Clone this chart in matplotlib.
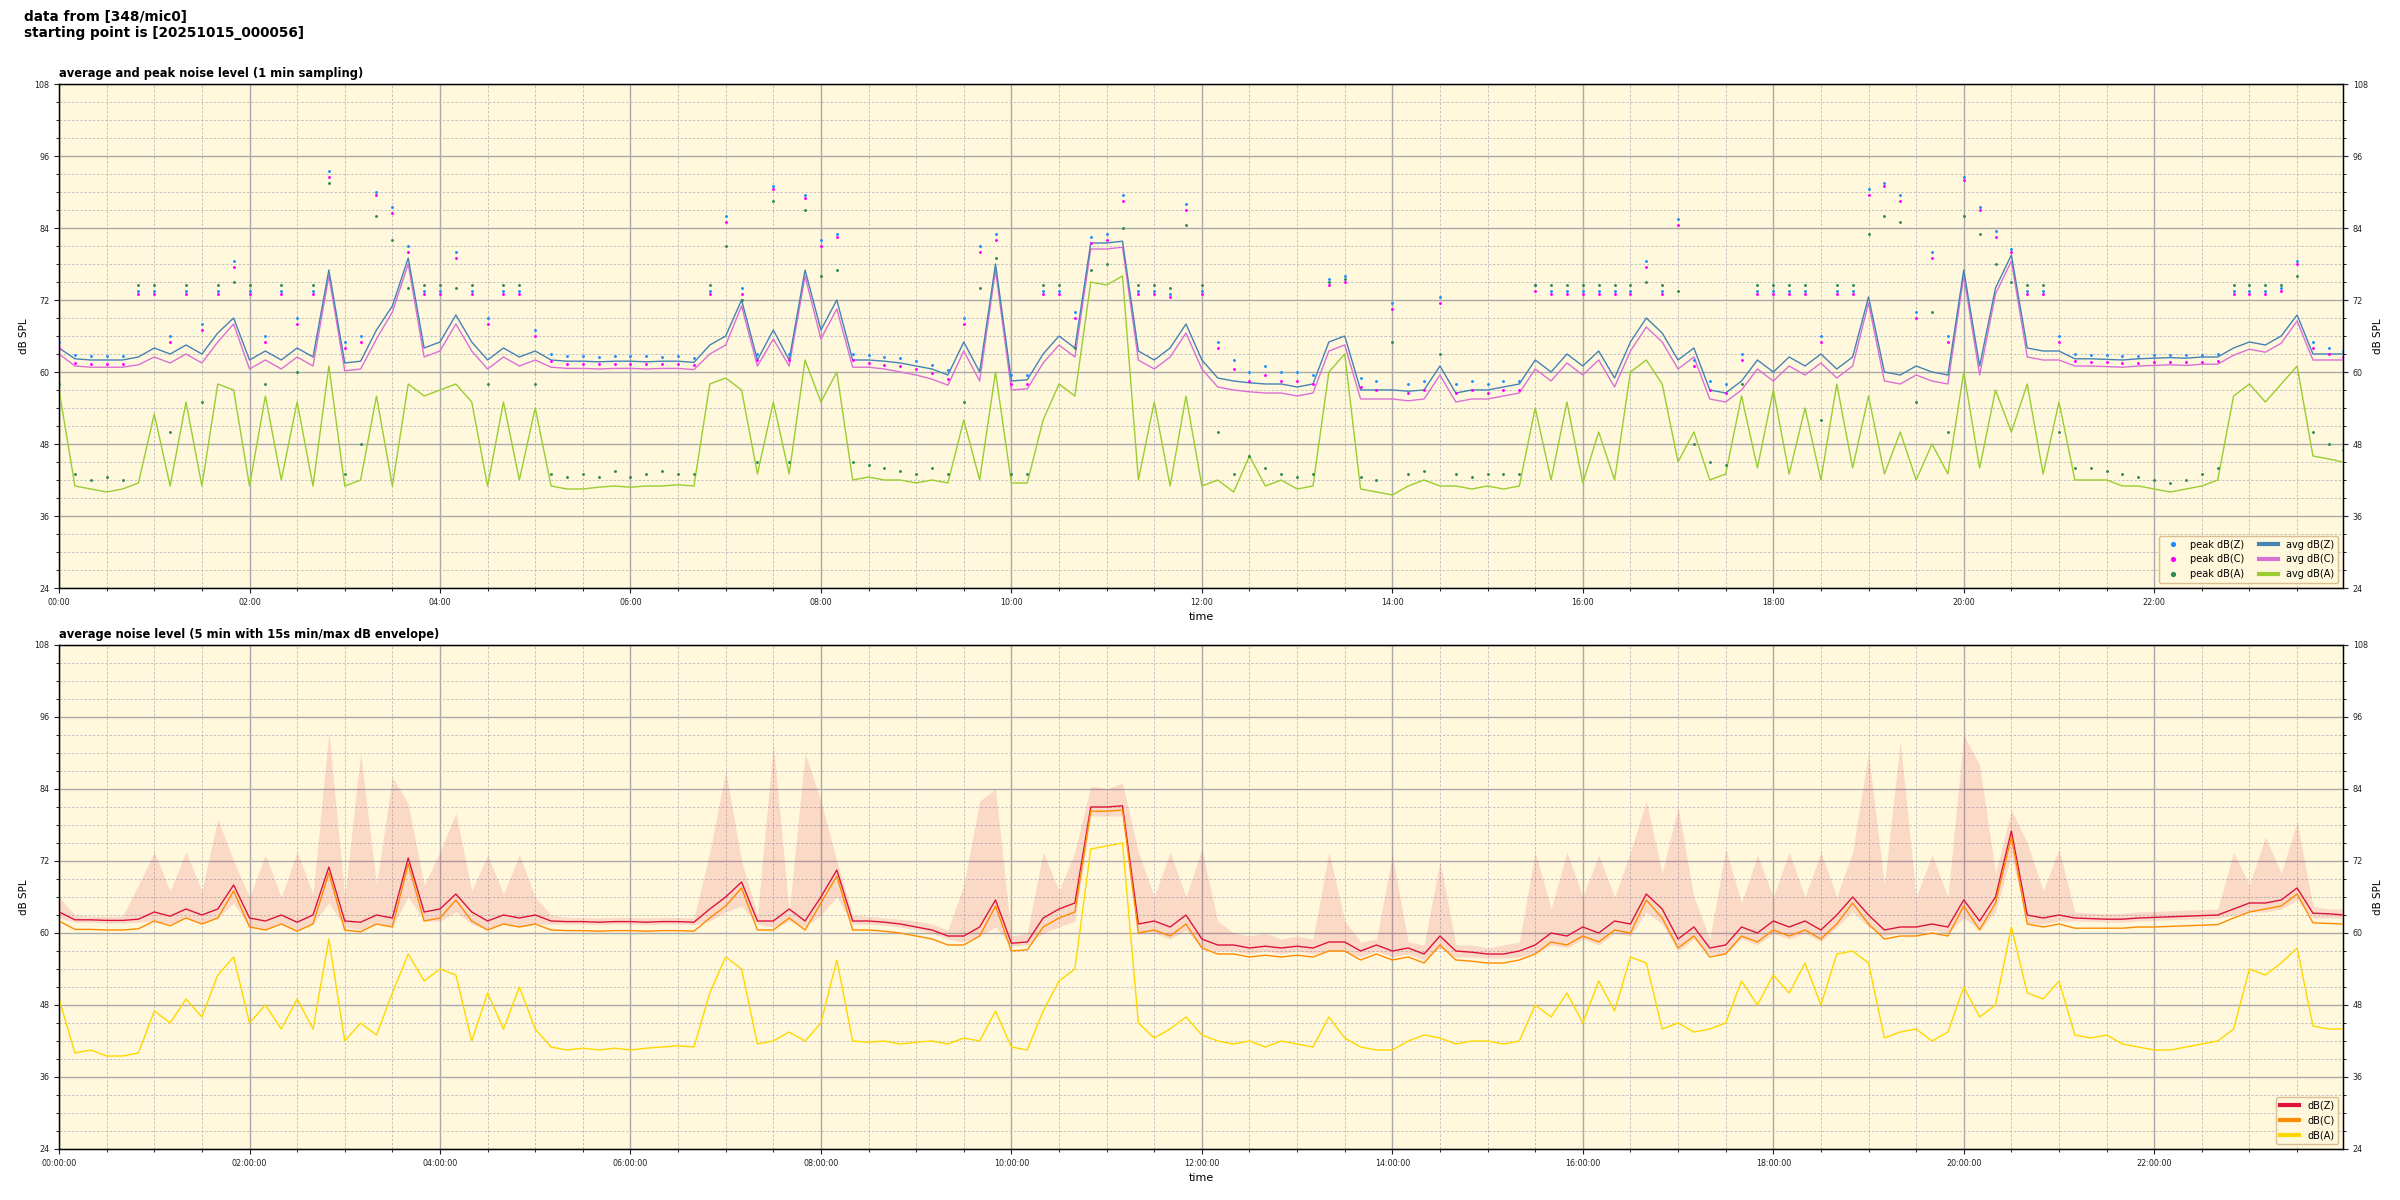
import numpy as np
import matplotlib
matplotlib.use('Agg')
from matplotlib import pyplot as plt
from matplotlib.ticker import MultipleLocator, FuncFormatter

#%% data (10 min steps)
minutes = list(range(0, 1440, 10)) + [1439]

# top panel: 1 min averages
avg_z = [64.0, 62.2, 62.0, 62.0, 62.0, 62.5,
         64.0, 63.0, 64.5, 63.0, 66.5, 69.0,
         62.0, 63.5, 62.0, 64.0, 62.5, 77.0,
         61.5, 61.8, 67.0, 71.0, 79.0, 64.0,
         65.0, 69.5, 65.0, 62.0, 64.0, 62.5,
         63.5, 62.0, 61.8, 61.8, 61.7, 61.8,
         61.8, 61.7, 61.8, 61.8, 61.6, 64.5,
         66.0, 72.0, 62.0, 67.0, 62.0, 77.0,
         67.0, 72.0, 62.0, 62.0, 61.8, 61.5,
         61.0, 60.5, 59.5, 65.0, 60.0, 78.0,
         58.5, 58.7, 63.0, 66.0, 64.0, 81.5,
         81.5, 81.8, 63.5, 62.0, 64.0, 68.0,
         62.0, 59.0, 58.5, 58.2, 58.0, 58.0,
         57.5, 58.0, 65.0, 66.0, 57.0, 57.0,
         57.0, 56.8, 57.0, 61.0, 56.5, 57.0,
         57.0, 57.5, 58.0, 62.0, 60.0, 63.0,
         61.0, 63.5, 59.0, 65.0, 69.0, 66.5,
         62.0, 64.0, 57.0, 56.5, 58.5, 62.0,
         60.0, 62.5, 61.0, 63.0, 60.5, 62.5,
         72.5, 60.0, 59.5, 61.0, 60.0, 59.5,
         77.0, 61.0, 74.0, 79.5, 64.0, 63.5,
         63.5, 62.2, 62.2, 62.1, 62.0, 62.2,
         62.3, 62.4, 62.3, 62.5, 62.5, 64.0,
         65.0, 64.5, 66.0, 69.5, 63.0, 63.0,
         63.0]

avg_c = [63.0, 61.0, 60.8, 60.8, 60.8, 61.2,
         62.5, 61.5, 63.0, 61.5, 65.0, 68.0,
         60.5, 62.0, 60.5, 62.5, 61.0, 76.0,
         60.2, 60.5, 65.5, 70.0, 78.0, 62.5,
         63.5, 68.0, 63.5, 60.5, 62.5, 61.0,
         62.0, 60.8, 60.6, 60.6, 60.5, 60.6,
         60.6, 60.5, 60.6, 60.6, 60.4, 63.0,
         64.5, 71.0, 61.0, 65.5, 61.0, 76.0,
         65.5, 70.5, 60.8, 60.8, 60.5, 60.0,
         59.5, 58.8, 57.8, 63.5, 58.5, 77.0,
         57.0, 57.2, 61.5, 64.5, 62.5, 80.5,
         80.5, 80.8, 62.0, 60.5, 62.5, 66.5,
         60.5, 57.5, 57.0, 56.7, 56.5, 56.5,
         56.0, 56.5, 63.5, 64.5, 55.5, 55.5,
         55.5, 55.2, 55.5, 59.5, 55.0, 55.5,
         55.5, 56.0, 56.5, 60.5, 58.5, 61.5,
         59.5, 62.0, 57.5, 63.5, 67.5, 65.0,
         60.5, 62.5, 55.5, 55.0, 57.0, 60.5,
         58.5, 61.0, 59.5, 61.5, 59.0, 61.0,
         71.5, 58.5, 58.0, 59.5, 58.5, 58.0,
         76.0, 59.5, 73.0, 78.5, 62.5, 62.0,
         62.0, 61.0, 61.0, 60.9, 60.8, 61.0,
         61.1, 61.2, 61.1, 61.3, 61.3, 62.8,
         63.8, 63.3, 64.8, 68.5, 62.0, 62.0,
         62.0]

avg_a = [57.0, 41.0, 40.5, 40.0, 40.5, 41.5,
         53.0, 41.0, 55.0, 41.0, 58.0, 57.0,
         41.0, 56.0, 42.0, 55.0, 41.0, 61.0,
         41.0, 42.0, 56.0, 41.0, 58.0, 56.0,
         57.0, 58.0, 55.0, 41.0, 55.0, 42.0,
         54.0, 41.0, 40.5, 40.5, 40.8, 41.0,
         40.8, 41.0, 41.0, 41.2, 41.0, 58.0,
         59.0, 57.0, 43.0, 55.0, 43.0, 62.0,
         55.0, 60.0, 42.0, 42.5, 42.0, 42.0,
         41.5, 42.0, 41.5, 52.0, 42.0, 60.0,
         41.5, 41.5, 52.0, 58.0, 56.0, 75.0,
         74.5, 76.0, 42.0, 55.0, 41.0, 56.0,
         41.0, 42.0, 40.0, 46.0, 41.0, 42.0,
         40.5, 41.0, 60.0, 63.0, 40.5, 40.0,
         39.5, 41.0, 42.0, 41.0, 41.0, 40.5,
         41.0, 40.5, 41.0, 54.0, 42.0, 55.0,
         41.5, 50.0, 42.0, 60.0, 62.0, 58.0,
         45.0, 50.0, 42.0, 43.0, 56.0, 44.0,
         57.0, 43.0, 54.0, 42.0, 58.0, 44.0,
         56.0, 43.0, 50.0, 42.0, 48.0, 43.0,
         60.0, 44.0, 57.0, 50.0, 58.0, 43.0,
         55.0, 42.0, 42.0, 42.0, 41.0, 41.0,
         40.5, 40.0, 40.5, 41.0, 42.0, 56.0,
         58.0, 55.0, 58.0, 61.0, 46.0, 45.5,
         45.0]

peak_z = [65.0, 62.8, 62.6, 62.6, 62.6, 73.5,
          73.5, 66.0, 73.5, 68.0, 73.5, 78.5,
          73.5, 66.0, 73.5, 69.0, 73.5, 93.5,
          65.0, 66.0, 90.0, 87.5, 81.0, 73.5,
          73.5, 80.0, 73.5, 69.0, 73.5, 73.5,
          67.0, 63.0, 62.6, 62.6, 62.5, 62.6,
          62.6, 62.6, 62.5, 62.6, 62.4, 73.5,
          86.0, 74.0, 63.0, 91.0, 63.0, 89.5,
          82.0, 83.0, 63.0, 62.8, 62.5, 62.3,
          61.8, 61.2, 60.3, 69.0, 81.0, 83.0,
          59.5, 59.5, 73.5, 73.5, 70.0, 82.5,
          83.0, 89.5, 73.5, 73.5, 73.0, 88.0,
          73.5, 65.0, 62.0, 60.0, 61.0, 60.0,
          60.0, 59.5, 75.5, 76.0, 59.0, 58.5,
          71.5, 58.0, 58.5, 72.5, 58.0, 58.5,
          58.0, 58.5, 58.5, 74.5, 73.5, 73.5,
          73.5, 73.5, 73.5, 73.5, 78.5, 73.5,
          85.5, 62.0, 58.5, 58.0, 63.0, 73.5,
          73.5, 73.5, 73.5, 66.0, 73.5, 73.5,
          90.5, 91.5, 89.5, 70.0, 80.0, 66.0,
          92.5, 87.5, 83.5, 80.5, 73.5, 73.5,
          66.0, 63.0, 62.8, 62.8, 62.7, 62.7,
          62.8, 62.9, 62.8, 62.9, 63.0, 73.5,
          73.5, 73.5, 74.0, 78.5, 65.0, 64.0,
          63.5]

peak_c = [64.0, 61.5, 61.3, 61.3, 61.3, 73.0,
          73.0, 65.0, 73.0, 67.0, 73.0, 77.5,
          73.0, 65.0, 73.0, 68.0, 73.0, 92.5,
          64.0, 65.0, 89.5, 86.5, 80.0, 73.0,
          73.0, 79.0, 73.0, 68.0, 73.0, 73.0,
          66.0, 61.8, 61.4, 61.4, 61.3, 61.4,
          61.4, 61.4, 61.3, 61.4, 61.2, 73.0,
          85.0, 73.0, 62.0, 90.5, 62.0, 89.0,
          81.0, 82.5, 62.0, 61.5, 61.2, 61.0,
          60.5, 59.8, 58.8, 68.0, 80.0, 82.0,
          58.0, 58.0, 73.0, 73.0, 69.0, 81.5,
          82.0, 88.5, 73.0, 73.0, 72.5, 87.0,
          73.0, 64.0, 60.5, 58.5, 59.5, 58.5,
          58.5, 58.0, 74.5, 75.0, 57.5, 57.0,
          70.5, 56.5, 57.0, 71.5, 56.5, 57.0,
          56.5, 57.0, 57.0, 73.5, 73.0, 73.0,
          73.0, 73.0, 73.0, 73.0, 77.5, 73.0,
          84.5, 61.0, 57.0, 56.5, 62.0, 73.0,
          73.0, 73.0, 73.0, 65.0, 73.0, 73.0,
          89.5, 91.0, 88.5, 69.0, 79.0, 65.0,
          92.0, 87.0, 82.5, 80.0, 73.0, 73.0,
          65.0, 61.8, 61.6, 61.6, 61.5, 61.5,
          61.6, 61.7, 61.6, 61.7, 61.8, 73.0,
          73.0, 73.0, 73.5, 78.0, 64.0, 63.0,
          62.5]

peak_a = [58.0, 43.0, 42.0, 42.5, 42.0, 74.5,
          74.5, 50.0, 74.5, 55.0, 74.5, 75.0,
          74.5, 58.0, 74.5, 60.0, 74.5, 91.5,
          43.0, 48.0, 86.0, 82.0, 74.0, 74.5,
          74.5, 74.0, 74.5, 58.0, 74.5, 74.5,
          58.0, 43.0, 42.5, 43.0, 42.5, 43.5,
          42.5, 43.0, 43.5, 43.0, 43.0, 74.5,
          81.0, 72.0, 45.0, 88.5, 45.0, 87.0,
          76.0, 77.0, 45.0, 44.5, 44.0, 43.5,
          43.0, 44.0, 43.0, 55.0, 74.0, 79.0,
          43.0, 43.0, 74.5, 74.5, 64.0, 77.0,
          78.0, 84.0, 74.5, 74.5, 74.0, 84.5,
          74.5, 50.0, 43.0, 46.0, 44.0, 43.0,
          42.5, 43.0, 75.0, 75.5, 42.5, 42.0,
          65.0, 43.0, 43.5, 63.0, 43.0, 42.5,
          43.0, 43.0, 43.0, 74.5, 74.5, 74.5,
          74.5, 74.5, 74.5, 74.5, 75.0, 74.5,
          73.5, 48.0, 45.0, 44.5, 58.0, 74.5,
          74.5, 74.5, 74.5, 52.0, 74.5, 74.5,
          83.0, 86.0, 85.0, 55.0, 70.0, 50.0,
          86.0, 83.0, 78.0, 75.0, 74.5, 74.5,
          50.0, 44.0, 44.0, 43.5, 43.0, 42.5,
          42.0, 41.5, 42.0, 43.0, 44.0, 74.5,
          74.5, 74.5, 74.5, 76.0, 50.0, 48.0,
          47.0]

# bottom panel: 5 min averages and 15 s envelope
low_z = [63.5, 62.2, 62.2, 62.1, 62.1, 62.3,
         63.5, 62.8, 64.0, 63.0, 64.0, 68.0,
         62.5, 62.0, 63.0, 61.8, 63.0, 71.0,
         62.0, 61.8, 63.0, 62.5, 72.5, 63.5,
         64.0, 66.5, 63.5, 62.0, 63.0, 62.5,
         63.0, 62.0, 61.9, 61.9, 61.8, 61.9,
         61.9, 61.8, 61.9, 61.9, 61.8, 64.0,
         66.0, 68.5, 62.0, 62.0, 64.0, 62.0,
         66.0, 70.5, 62.0, 62.0, 61.8, 61.5,
         61.0, 60.5, 59.5, 59.5, 61.0, 65.5,
         58.3, 58.5, 62.5, 64.0, 65.0, 81.0,
         81.0, 81.2, 61.5, 62.0, 61.0, 63.0,
         59.0, 58.0, 58.0, 57.5, 57.8, 57.5,
         57.8, 57.5, 58.5, 58.5, 57.0, 58.0,
         57.0, 57.5, 56.5, 59.5, 57.0, 56.8,
         56.5, 56.5, 57.0, 58.0, 60.0, 59.5,
         61.0, 60.0, 62.0, 61.5, 66.5, 64.0,
         59.0, 61.0, 57.5, 58.0, 61.0, 60.0,
         62.0, 61.0, 62.0, 60.5, 63.0, 66.0,
         63.0, 60.5, 61.0, 61.0, 61.5, 61.0,
         65.5, 62.0, 66.0, 77.0, 63.0, 62.5,
         63.0, 62.5, 62.4, 62.3, 62.3, 62.5,
         62.6, 62.7, 62.8, 62.9, 63.0, 64.0,
         65.0, 65.0, 65.5, 67.5, 63.3, 63.2,
         63.0]

low_c = [62.0, 60.6, 60.6, 60.5, 60.5, 60.7,
         62.0, 61.2, 62.5, 61.5, 62.5, 67.0,
         61.0, 60.5, 61.5, 60.3, 61.5, 70.0,
         60.5, 60.2, 61.5, 61.0, 71.5, 62.0,
         62.5, 65.5, 62.0, 60.5, 61.5, 61.0,
         61.5, 60.5, 60.4, 60.4, 60.3, 60.4,
         60.4, 60.3, 60.4, 60.4, 60.3, 62.5,
         64.5, 67.5, 60.5, 60.5, 62.5, 60.5,
         65.0, 69.5, 60.5, 60.5, 60.3, 60.0,
         59.5, 59.0, 58.0, 58.0, 59.5, 64.5,
         57.0, 57.2, 61.0, 62.5, 63.5, 80.3,
         80.3, 80.5, 60.0, 60.5, 59.5, 61.5,
         57.5, 56.5, 56.5, 56.0, 56.3, 56.0,
         56.3, 56.0, 57.0, 57.0, 55.5, 56.5,
         55.5, 56.0, 55.0, 58.0, 55.5, 55.3,
         55.0, 55.0, 55.5, 56.5, 58.5, 58.0,
         59.5, 58.5, 60.5, 60.0, 65.5, 62.5,
         57.5, 59.5, 56.0, 56.5, 59.5, 58.5,
         60.5, 59.5, 60.5, 59.0, 61.5, 65.0,
         61.5, 59.0, 59.5, 59.5, 60.0, 59.5,
         64.5, 60.5, 65.0, 76.0, 61.5, 61.0,
         61.5, 60.8, 60.8, 60.8, 60.8, 61.0,
         61.0, 61.1, 61.2, 61.3, 61.4, 62.5,
         63.5, 64.0, 64.5, 66.5, 61.7, 61.6,
         61.5]

low_a = [49.0, 40.0, 40.5, 39.5, 39.5, 40.0,
         47.0, 45.0, 49.0, 46.0, 53.0, 56.0,
         45.0, 48.0, 44.0, 49.0, 44.0, 59.0,
         42.0, 45.0, 43.0, 50.0, 56.5, 52.0,
         54.0, 53.0, 42.0, 50.0, 44.0, 51.0,
         44.0, 41.0, 40.5, 40.8, 40.5, 40.8,
         40.5, 40.8, 41.0, 41.2, 41.0, 50.0,
         56.0, 54.0, 41.5, 42.0, 43.5, 42.0,
         45.0, 55.5, 42.0, 41.8, 42.0, 41.5,
         41.8, 42.0, 41.5, 42.5, 42.0, 47.0,
         41.0, 40.5, 47.0, 52.0, 54.0, 74.0,
         74.5, 75.0, 45.0, 42.5, 44.0, 46.0,
         43.0, 42.0, 41.5, 42.0, 41.0, 42.0,
         41.5, 41.0, 46.0, 42.5, 41.0, 40.5,
         40.5, 42.0, 43.0, 42.5, 41.5, 42.0,
         42.0, 41.5, 42.0, 48.0, 46.0, 50.0,
         45.0, 52.0, 47.0, 56.0, 55.0, 44.0,
         45.0, 43.5, 44.0, 45.0, 52.0, 48.0,
         53.0, 50.0, 55.0, 48.0, 56.5, 57.0,
         55.0, 42.5, 43.5, 44.0, 42.0, 43.5,
         51.0, 46.0, 48.0, 61.0, 50.0, 49.0,
         52.0, 43.0, 42.5, 43.0, 41.5, 41.0,
         40.5, 40.5, 41.0, 41.5, 42.0, 44.0,
         54.0, 53.0, 55.0, 57.5, 44.5, 44.0,
         44.0]

env_max = [66.0, 63.0, 62.8, 62.8, 62.8, 68.0,
           73.5, 67.0, 73.5, 67.0, 79.0, 72.0,
           66.0, 73.0, 66.0, 73.5, 66.5, 93.5,
           66.0, 90.0, 68.0, 86.0, 81.5, 68.0,
           73.5, 80.0, 67.0, 73.0, 66.5, 73.0,
           66.0, 63.0, 62.6, 62.6, 62.5, 62.6,
           62.6, 62.5, 62.6, 62.6, 62.5, 73.5,
           87.0, 72.0, 63.0, 91.5, 63.5, 90.0,
           82.0, 72.0, 63.0, 62.8, 62.5, 62.3,
           62.0, 61.5, 60.5, 68.0, 82.0, 84.0,
           59.5, 60.0, 73.5, 67.0, 73.5, 84.5,
           84.0, 85.0, 73.5, 66.0, 73.5, 66.0,
           74.0, 62.0, 60.0, 59.5, 60.0, 59.0,
           59.5, 59.0, 73.5, 62.0, 58.5, 59.0,
           73.0, 58.5, 58.0, 72.0, 58.0, 58.0,
           57.5, 58.0, 58.5, 73.5, 64.0, 73.5,
           66.0, 73.0, 66.0, 73.5, 82.0, 70.0,
           81.0, 66.0, 59.0, 74.0, 65.0, 73.0,
           66.0, 73.5, 66.0, 73.5, 66.0, 73.5,
           90.0, 68.0, 92.0, 66.0, 73.0, 66.0,
           93.0, 88.0, 70.0, 80.5, 75.0, 67.0,
           74.0, 63.5, 63.3, 63.2, 63.3, 63.5,
           63.6, 63.7, 63.8, 63.9, 64.0, 73.5,
           68.0, 76.0, 70.0, 78.5, 64.5, 64.0,
           64.0]

env_min = [62.5, 61.8, 61.8, 61.7, 61.7, 61.8,
           62.0, 61.5, 62.5, 61.5, 62.5, 65.0,
           61.0, 60.5, 61.5, 60.5, 61.5, 65.0,
           61.0, 60.5, 61.5, 61.0, 66.0, 62.0,
           62.0, 63.5, 61.5, 60.5, 61.5, 61.0,
           61.5, 61.5, 61.5, 61.5, 61.4, 61.5,
           61.5, 61.4, 61.5, 61.5, 61.4, 62.0,
           63.5, 64.5, 61.5, 61.0, 62.0, 61.0,
           63.0, 66.0, 61.5, 61.5, 61.3, 61.0,
           60.5, 60.0, 59.0, 58.5, 59.5, 61.0,
           57.8, 58.0, 60.0, 61.0, 62.0, 79.5,
           79.5, 79.5, 60.0, 60.0, 59.0, 60.5,
           57.5, 57.0, 57.0, 56.5, 57.0, 56.5,
           57.0, 56.5, 57.0, 57.0, 56.0, 57.0,
           56.0, 56.5, 55.5, 57.5, 56.0, 56.0,
           55.8, 55.8, 56.0, 56.5, 58.0, 57.5,
           59.0, 58.0, 60.0, 59.5, 63.5, 61.5,
           57.0, 59.0, 56.5, 56.5, 59.0, 58.0,
           60.0, 59.0, 60.0, 58.5, 61.0, 63.5,
           61.0, 59.5, 60.0, 60.0, 60.5, 60.0,
           62.5, 60.5, 63.5, 73.0, 61.5, 61.5,
           62.0, 62.0, 62.0, 61.8, 61.8, 62.0,
           62.1, 62.2, 62.3, 62.4, 62.5, 63.0,
           63.5, 63.5, 64.0, 65.5, 62.5, 62.5,
           62.5]

#%% helpers
BG = '#fff8dc'
hours = np.array(minutes) / 60.0


def fmt_hm(x, pos):
    m = int(round(x * 60))
    return '%02d:%02d' % (m // 60, m % 60)


def fmt_hms(x, pos):
    m = int(round(x * 60))
    return '%02d:%02d:00' % (m // 60, m % 60)


def styleAxis(ax, formatter):
    ax.set_facecolor(BG)
    ax.set_xlim(hours[0], hours[-1])
    ax.set_ylim(24, 108)
    ax.yaxis.set_major_locator(MultipleLocator(12))
    ax.yaxis.set_minor_locator(MultipleLocator(3))
    ax.xaxis.set_major_locator(MultipleLocator(2))
    ax.xaxis.set_minor_locator(MultipleLocator(0.5))
    ax.xaxis.set_major_formatter(FuncFormatter(formatter))
    ax.grid(which='major', color='#aaaaaa', linewidth=1.0)
    ax.grid(which='minor', color='#bbbbbb', linewidth=0.6, linestyle=(0, (3, 2)))
    ax.set_axisbelow(True)
    ax.tick_params(labelsize=5.8, colors='#222222')
    ax.set_xlabel('time', fontsize=8)
    ax.set_ylabel('dB SPL', fontsize=7.5)
    for s in ax.spines.values():
        s.set_linewidth(1.0)
    right = ax.twinx()
    right.set_ylim(24, 108)
    right.yaxis.set_major_locator(MultipleLocator(12))
    right.yaxis.set_minor_locator(MultipleLocator(3))
    right.tick_params(labelsize=5.8, colors='#222222')
    right.set_ylabel('dB SPL', fontsize=7.5)
    return right


#%% figure
fig = plt.figure(figsize=(24, 12), dpi=100)
fig.text(0.01, 0.992, 'data from [348/mic0]\nstarting point is [20251015_000056]',
         ha='left', va='top', fontsize=9.8, fontweight='bold')

ax1 = fig.add_axes([0.0246, 0.51, 0.9517, 0.42])
ax2 = fig.add_axes([0.0246, 0.0425, 0.9517, 0.42])

# top panel
ax1.plot(hours, avg_c, color='orchid', lw=1.0, label='avg dB(C)', zorder=3)
ax1.plot(hours, avg_z, color='steelblue', lw=1.0, label='avg dB(Z)', zorder=3)
ax1.plot(hours, avg_a, color='yellowgreen', lw=1.0, label='avg dB(A)', zorder=3)
ax1.plot(hours, peak_z, '.', color='dodgerblue', ms=2.2, label='peak dB(Z)', zorder=4)
ax1.plot(hours, peak_c, '.', color='magenta', ms=2.2, label='peak dB(C)', zorder=4)
ax1.plot(hours, peak_a, '.', color='seagreen', ms=2.2, label='peak dB(A)', zorder=4)
ax1.set_title('average and peak noise level (1 min sampling)', loc='left',
              fontsize=8.3, fontweight='bold', pad=5)
styleAxis(ax1, fmt_hm)

h, l = ax1.get_legend_handles_labels()
order = [3, 4, 5, 1, 0, 2]
leg1 = ax1.legend([h[i] for i in order], [l[i] for i in order], ncol=2,
                  loc='lower right', fontsize=7, markerscale=2.5,
                  facecolor=BG, edgecolor='#d8b98c', framealpha=0.9,
                  columnspacing=1.5)
for line in leg1.get_lines():
    line.set_linewidth(3)

# bottom panel
ax2.fill_between(hours, env_min, env_max, color='crimson', alpha=0.13,
                 linewidth=0, zorder=2)
ax2.plot(hours, low_z, color='crimson', lw=1.0, label='dB(Z)', zorder=3)
ax2.plot(hours, low_c, color='darkorange', lw=1.0, label='dB(C)', zorder=3)
ax2.plot(hours, low_a, color='gold', lw=1.0, label='dB(A)', zorder=3)
ax2.set_title('average noise level (5 min with 15s min/max dB envelope)', loc='left',
              fontsize=8.3, fontweight='bold', pad=5)
styleAxis(ax2, fmt_hms)
leg2 = ax2.legend(loc='lower right', fontsize=7, facecolor=BG,
                  edgecolor='#d8b98c', framealpha=0.9)
for line in leg2.get_lines():
    line.set_linewidth(3)

fig.savefig('out.png', dpi=100)
